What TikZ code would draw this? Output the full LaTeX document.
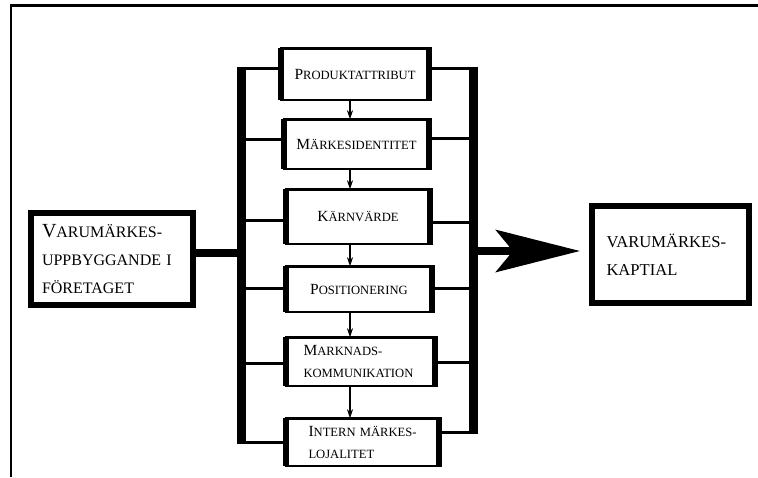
\documentclass[tikz,border=0pt]{standalone}
\usepackage{fontspec}
\setmainfont{Liberation Serif}
\usetikzlibrary{arrows.meta}

\newcommand{\initcap}[1]{{\fontsize{15.5pt}{22pt}\selectfont #1}}
\newcommand{\leadcap}[1]{{\fontsize{20pt}{28pt}\selectfont #1}}

\begin{document}
\begin{tikzpicture}[x=1pt, y=-1pt,
    stage/.style={draw, line width=2.5pt, inner sep=0pt, outer sep=0pt,
      font=\fontsize{12.6pt}{22pt}\selectfont},
    endbox/.style={draw, line width=6pt, inner sep=0pt, outer sep=0pt,
      align=left, font=\fontsize{16pt}{28pt}\selectfont},
    side/.style={line width=6pt, shorten <=-1.25pt, shorten >=-1.25pt},
    rung/.style={line width=3pt},
    rail/.style={line width=9pt, shorten <=-1.5pt, shorten >=-1.5pt},
    trunk/.style={line width=8pt},
    flow/.style={line width=1.2pt, -{Stealth[length=9pt, width=6pt]}},
    bigarrow/.style={line width=8pt,
      -{Stealth[length=84pt 0 0, width=42pt 0 0, inset=17pt 0 0]}}]
  \useasboundingbox (0,0) rectangle (758,477);
  % Page frame
  \draw[line width=2.5pt] (11,477) -- (11,5.5) -- (758,5.5);

  % Stages in the middle column
  \node[stage, minimum width=148pt, minimum height=51.5pt] (prod) at (355,74)
    {\initcap{P}RODUKTATTRIBUT};
  \node[stage, minimum width=145pt, minimum height=49.5pt] (ident) at (356.5,144)
    {\initcap{M}ÄRKESIDENTITET};
  \node[stage, minimum width=144pt, minimum height=54.5pt] (karn) at (358,216.5)
    {\initcap{K}ÄRNVÄRDE};
  \node[stage, minimum width=146pt, minimum height=45.5pt] (pos) at (359,289)
    {\initcap{P}OSITIONERING};
  \node[stage, minimum width=149pt, minimum height=48.5pt, align=left,
    text width=114pt] (komm) at (360.5,361.5)
    {\initcap{M}ARKNADS-\\KOMMUNIKATION};
  \node[stage, minimum width=153pt, minimum height=47.5pt, align=left,
    text width=108pt] (lojal) at (362.5,442)
    {\mbox{\initcap{I}NTERN MÄRKES-}\\LOJALITET};
  \foreach \n in {prod,ident,karn,pos,komm,lojal}
    \draw[side] (\n.north west) -- (\n.south west)
      (\n.north east) -- (\n.south east);

  % Source and result boxes
  \node[endbox, minimum width=162pt, minimum height=92pt, text width=140pt]
    (src) at (112,259) {\leadcap{V}ARUMÄRKES-\\UPPBYGGANDE I\\FÖRETAGET};
  \node[endbox, minimum width=157pt, minimum height=97pt, text width=128pt,
    font=\fontsize{16.6pt}{28pt}\selectfont]
    (kap) at (670.5,254.5) {VARUMÄRKES-\\KAPTIAL};

  % Points on the two rails
  \coordinate (L1) at (241,68);
  \coordinate (L2) at (241,139);
  \coordinate (L3) at (241,220);
  \coordinate (L4) at (241,288);
  \coordinate (L5) at (241,363);
  \coordinate (L6) at (241,442);
  \coordinate (Lsrc) at (241,253);
  \coordinate (R1) at (473,68);
  \coordinate (R2) at (473,138);
  \coordinate (R3) at (473,222);
  \coordinate (R4) at (473,288);
  \coordinate (R5) at (473,362);
  \coordinate (R6) at (473,432);
  \coordinate (Rarr) at (473,251);
  \coordinate (ax) at (350,0);

  % Rails and rungs
  \draw[rail] (L1) -- (L6);
  \draw[rail] (R1) -- (R6);
  \draw[rung] (L1) -- (L1 -| prod.west);
  \draw[rung] (L2) -- (L2 -| ident.west);
  \draw[rung] (L3) -- (L3 -| karn.west);
  \draw[rung] (L4) -- (L4 -| pos.west);
  \draw[rung] (L5) -- (L5 -| komm.west);
  \draw[rung] (L6) -- (L6 -| lojal.west);
  \draw[rung] (R1) -- (R1 -| prod.east);
  \draw[rung] (R2) -- (R2 -| ident.east);
  \draw[rung] (R3) -- (R3 -| karn.east);
  \draw[rung] (R4) -- (R4 -| pos.east);
  \draw[rung] (R5) -- (R5 -| komm.east);
  \draw[rung] (R6) -- (R6 -| lojal.east);

  % Arrows down the column
  \draw[flow] (prod.south -| ax) -- (ident.north -| ax);
  \draw[flow] (ident.south -| ax) -- (karn.north -| ax);
  \draw[flow] (karn.south -| ax) -- (pos.north -| ax);
  \draw[flow] (pos.south -| ax) -- (komm.north -| ax);
  \draw[flow] (komm.south -| ax) -- (lojal.north -| ax);

  % Input and output
  \draw[trunk] (src.east |- Lsrc) -- (Lsrc);
  \draw[bigarrow] (Rarr) -- ([xshift=-12pt]kap.west |- Rarr);
\end{tikzpicture}
\end{document}
